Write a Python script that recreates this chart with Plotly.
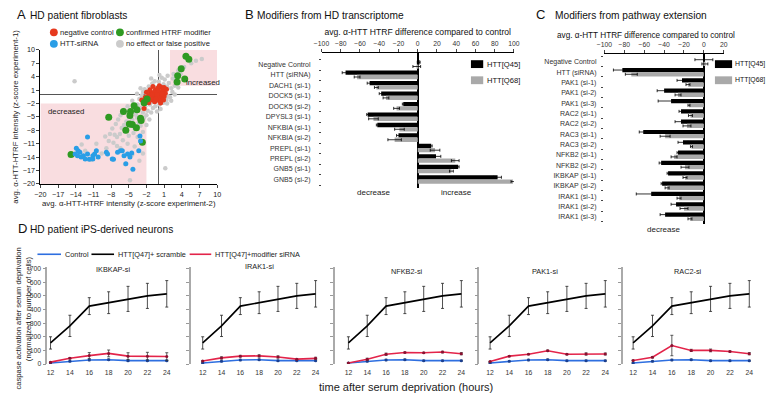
import plotly.graph_objects as go

W, H = 771, 402
FONT = "Liberation Sans, Arial, sans-serif"


def px(x):
    return x / W


def py(y):
    return 1 - y / H


# ---------------- Panel A : screen scatter (z-scores) ----------------
grey_points = [
    (0.2, 0.5), (-0.5, 0.8), (0.8, 1.2), (1.2, 0.3), (-0.8, -0.4), (0.5, -0.6), (1.5, 1.8), (-1.2, 0.2),
    (-0.3, 1.6), (0.9, 2.3), (1.8, 2.6), (2.2, 1.4), (-1.5, -1.0), (-2.0, -0.5), (-1.8, 0.8), (-2.5, -1.5),
    (-2.8, -0.2), (-0.2, -1.5), (0.4, -1.2), (1.0, -0.8), (1.6, -0.3), (2.4, 0.6), (2.8, 2.0), (-1.0, 2.5),
    (0.1, 2.9), (1.1, 3.4), (-0.6, 3.0), (-3.2, -1.0), (-3.5, -2.2), (-3.0, -3.0), (-2.2, -2.6), (-1.4, -2.2),
    (-0.9, -3.0), (-4.0, -2.8), (-4.2, -3.8), (-3.8, -4.5), (-2.6, -4.0), (-1.8, -3.6), (-4.6, -4.2), (-5.0, -5.0),
    (-4.4, -5.6), (-3.6, -5.2), (-3.3, -6.2), (-5.4, -6.0), (-5.8, -6.8), (-4.8, -7.0), (-4.0, -7.6), (-6.2, -7.5),
    (-5.6, -8.3), (-6.5, -8.8), (-7.0, -9.5), (-3.0, -7.0), (-2.4, -5.2), (-2.0, -4.6), (-1.2, -4.0), (-0.5, -2.6),
    (0.2, -2.2), (0.9, -1.8), (1.4, -1.2), (2.0, -0.6), (-2.3, 1.2), (-1.6, 1.8), (-3.6, 0.2), (-4.4, -1.4),
    (-5.2, -2.6), (-5.8, -3.4), (-6.4, -4.6), (-6.8, -5.6), (-7.2, -6.6), (-7.8, -7.6), (-8.2, -8.8), (-5.0, -9.2),
    (-4.2, -8.6), (-3.5, -9.5), (-2.6, -8.4), (-2.0, -6.8), (-1.5, -5.6), (0.6, 3.8), (1.6, 4.2), (2.5, 3.6),
    (3.0, 2.8), (2.6, 4.6), (3.4, 5.4), (4.4, 6.2), (5.6, 7.0), (6.4, 7.6), (7.4, 8.0), (3.8, 4.6),
    (0.0, -0.2), (0.6, 0.4), (-0.4, -0.8), (-1.0, -1.6), (1.3, 1.0), (0.3, 1.3), (-0.7, 0.0), (-1.3, -0.6),
    (-2.0, 0.3), (-2.6, 0.6), (-3.0, 1.4), (-1.2, 3.6), (0.2, 4.4), (1.5, -2.0), (2.2, -1.4), (2.8, 0.0),
    (3.4, 1.6), (0.4, -3.2), (-0.2, -3.8),
    (-14.2, 3.0), (1.2, -16.5), (-4.8, -19.2), (-10.5, -11.0), (-8.4, -10.4), (-12.4, -12.6), (-7.0, -11.5),
    (-6.4, -12.0), (-9.6, -13.2), (-6.0, -10.2), (-8.8, -12.0), (-7.6, -10.8), (-5.2, -11.0), (-4.0, -11.6),
    (-3.2, -14.8), (-2.6, -13.2), (-11.4, -14.6), (-13.0, -11.2), (-9.0, -9.4), (-7.4, -9.0), (-5.6, -15.6),
    (-4.4, -13.4),
]
red_points = [
    (-0.3, 0.2), (0.1, 0.6), (0.5, -0.2), (-0.8, -0.5), (0.8, 0.9), (-1.2, 0.4), (-0.5, 1.0), (0.3, -0.8),
    (1.0, -0.4), (-1.6, -0.2), (-1.0, -1.2), (0.6, 1.6), (-0.1, 1.4), (1.2, 0.3), (-1.8, -1.0), (-2.2, -0.6),
    (-0.6, -1.6), (0.2, -1.4), (0.9, -1.2), (-1.4, 1.1), (-0.9, 1.8), (0.4, 0.3), (-0.2, -0.4), (-2.4, -1.6),
    (-2.0, 0.5), (1.4, 1.2), (0.0, 1.0), (-1.2, -0.6), (0.7, 0.2), (-0.4, -1.0), (-1.6, -1.8), (-2.4, -3.1),
    (-0.7, 0.5), (0.2, 2.0), (1.0, 1.6), (-2.8, -1.2), (-1.0, 0.0), (0.4, -1.9), (-0.2, 0.0),
]
green_points = [
    (4.7, 8.6), (5.2, 7.9), (3.9, 5.8), (3.3, 4.2), (4.5, 3.5), (3.2, 2.8), (-2.4, -1.8), (-1.9, -1.0),
    (-4.1, -2.5), (-3.6, -3.4), (-5.9, -3.8), (-4.7, -3.8), (-4.8, -4.7), (-3.0, -5.3), (-2.9, -5.8),
    (-8.4, -5.1), (-4.9, -6.6), (-4.4, -6.7), (-5.5, -8.0), (-3.7, -7.4), (-2.7, -10.7), (-14.8, -13.4),
]
blue_points = [
    (-13.9, -12.0), (-13.6, -12.6), (-13.3, -12.9), (-14.1, -13.3), (-13.7, -13.7), (-13.1, -14.0),
    (-12.7, -13.7), (-12.4, -14.4), (-11.7, -14.5), (-12.0, -13.3), (-11.1, -13.7), (-10.8, -13.3),
    (-10.5, -12.6), (-11.1, -14.4), (-10.2, -14.0), (-8.8, -12.9), (-8.6, -13.3), (-7.8, -14.4),
    (-7.6, -14.5), (-6.9, -12.9), (-6.4, -12.6), (-6.1, -12.6), (-5.8, -13.7), (-5.2, -13.3),
    (-4.5, -13.1), (-4.8, -14.0), (-5.5, -15.5), (-3.1, -9.3), (-3.0, -10.4), (-3.3, -12.6),
    (-4.3, -16.7), (-12.0, -9.5),
]
a_ticks = [-20, -17, -14, -11, -8, -5, -2, 1, 4, 7, 10]

# ---------------- Panel B : HD transcriptome modifiers ----------------
b_labels = ["Negative Control", "HTT (siRNA)", "DACH1 (si-1)", "DOCK5 (si-1)", "DOCK5 (si-2)",
            "DPYSL3 (si-1)", "NFKBIA (si-1)", "NFKBIA (si-2)", "PREPL (si-1)", "PREPL (si-2)",
            "GNB5 (si-1)", "GNB5 (si-2)"]
b_q45 = [1, -75, -50, -38, -15, -52, -42, -20, 14, 19, 42, 83]
b_q45_err = [1.5, 3.5, 2.5, 2, 1, 1, 1, 2, 1, 5, 1, 4]
b_q68 = [-1, -63, -43, -33, -22, -46, -19, -24, 18, 39, 35, 99]
b_q68_err = [4, 3, 2, 3, 3, 5, 5, 7, 5, 4, 2, 2]

# ---------------- Panel C : pathway extension modifiers ----------------
c_labels = ["Negative Control", "HTT (siRNA)", "PAK1 (si-1)", "PAK1 (si-2)", "PAK1 (si-3)",
            "RAC2 (si-1)", "RAC2 (si-2)", "RAC3 (si-1)", "RAC3 (si-2)", "NFKB2 (si-1)",
            "NFKB2 (si-2)", "IKBKAP (si-1)", "IKBKAP (si-2)", "IRAK1 (si-1)", "IRAK1 (si-2)",
            "IRAK1 (si-3)"]
c_q45 = [0, -82, -22, -40, -33, -23, -23, -61, -21, -26, -43, -36, -42, -53, -28, -39]
c_q45_err = [9, 9, 5, 7, 13, 2, 6, 4, 5, 1, 2, 1, 1, 15, 5, 5]
c_q68 = [1, -73, -16, -26, -15, -13.5, -17, -39, -12.5, -30, -19, -19, -37, -25, -20, -14]
c_q68_err = [3, 6, 2, 3, 1, 2, 4, 5, 1, 3, 4, 2, 2, 2, 4, 2]

# ---------------- Panel D : caspase activation time course ----------------
hours = [12, 14, 16, 18, 20, 22, 24]
control = [8, 20, 30, 32, 25, 25, 25]
control_err = [2, 3, 5, 5, 4, 4, 4]
scramble = [155, 280, 425, 450, 478, 500, 515]
scramble_err = [45, 78, 62, 80, 92, 92, 97]
d_titles = ["IKBKAP-si", "IRAK1-si", "NFKB2-si", "PAK1-si", "RAC2-si"]
mod_ikbkap = [14, 43, 62, 78, 58, 58, 55]
mod_ikbkap_err = [3, 5, 22, 25, 25, 28, 28]
mod_irak1 = [22, 45, 58, 60, 52, 36, 42]
mod_irak1_err = [3, 8, 6, 8, 8, 5, 8]
mod_nfkb2 = [8, 35, 72, 85, 83, 88, 76]
mod_nfkb2_err = [2, 8, 8, 3, 3, 6, 8]
mod_pak1 = [18, 58, 72, 98, 72, 74, 74]
mod_pak1_err = [2, 3, 3, 5, 4, 8, 7]
mod_rac2 = [26, 50, 136, 100, 100, 92, 76]
mod_rac2_err = [3, 5, 75, 8, 10, 4, 8]
d_y_ticks = [0, 100, 200, 300, 400, 500, 600, 700]

RED = "#e6391e"
GREEN = "#2f9a22"
BLUE = "#2a9ee6"
GREY = "#cbcbcb"
D_BLUE = "#2e6fe0"
D_RED = "#e3244a"
BAR_GREY = "#a9a9a9"

fig = go.Figure()

# ---- A traces
for pts, col, size in [(grey_points, GREY, 4.5), (red_points, RED, 5), (green_points, GREEN, 7),
                       (blue_points, BLUE, 5)]:
    xs = [p[0] for p in pts]
    ys = [p[1] for p in pts]
    fig.add_trace(go.Scatter(x=xs, y=ys, mode="markers", xaxis="x", yaxis="y",
                             marker=dict(size=size, color=col, line=dict(width=0)),
                             showlegend=False, hoverinfo="skip"))

# ---- B traces
b_idx = list(range(len(b_labels)))
fig.add_trace(go.Bar(x=b_q45, y=b_idx, orientation="h", xaxis="x2", yaxis="y2", marker_color="black",
                     marker_line_width=0, showlegend=False,
                     error_x=dict(type="data", array=b_q45_err, color="black", thickness=0.8, width=1.5)))
fig.add_trace(go.Bar(x=b_q68, y=b_idx, orientation="h", xaxis="x2", yaxis="y2", marker_color=BAR_GREY,
                     marker_line_width=0, showlegend=False,
                     error_x=dict(type="data", array=b_q68_err, color="black", thickness=0.8, width=1.5)))

# ---- C traces
c_idx = list(range(len(c_labels)))
fig.add_trace(go.Bar(x=c_q45, y=c_idx, orientation="h", xaxis="x3", yaxis="y3", marker_color="black",
                     marker_line_width=0, showlegend=False,
                     error_x=dict(type="data", array=c_q45_err, color="black", thickness=0.8, width=1.5)))
fig.add_trace(go.Bar(x=c_q68, y=c_idx, orientation="h", xaxis="x3", yaxis="y3", marker_color=BAR_GREY,
                     marker_line_width=0, showlegend=False,
                     error_x=dict(type="data", array=c_q68_err, color="black", thickness=0.8, width=1.5)))

# ---- D traces
mods = [(mod_ikbkap, mod_ikbkap_err), (mod_irak1, mod_irak1_err), (mod_nfkb2, mod_nfkb2_err),
        (mod_pak1, mod_pak1_err), (mod_rac2, mod_rac2_err)]
for k, (m, me) in enumerate(mods):
    xa, ya = "x%d" % (4 + k), "y%d" % (4 + k)
    fig.add_trace(go.Scatter(x=hours, y=control, xaxis=xa, yaxis=ya, mode="lines+markers",
                             line=dict(color=D_BLUE, width=1.6), marker=dict(size=3, color="#1a3f90"),
                             error_y=dict(type="data", array=control_err, color="#333", thickness=0.8, width=1.5),
                             showlegend=False))
    fig.add_trace(go.Scatter(x=hours, y=m, xaxis=xa, yaxis=ya, mode="lines+markers",
                             line=dict(color=D_RED, width=1.6), marker=dict(size=3, color="#8a1030"),
                             error_y=dict(type="data", array=me, color="#333", thickness=0.8, width=1.5),
                             showlegend=False))
    fig.add_trace(go.Scatter(x=hours, y=scramble, xaxis=xa, yaxis=ya, mode="lines",
                             line=dict(color="black", width=1.6),
                             error_y=dict(type="data", array=scramble_err, color="#222", thickness=0.8, width=1.5),
                             showlegend=False))

layout = dict(
    width=W, height=H, margin=dict(l=0, r=0, t=0, b=0),
    paper_bgcolor="white", plot_bgcolor="white",
    font=dict(family=FONT, color="#222"),
    barmode="group", bargap=0.18, bargroupgap=0.0,
    showlegend=False,
)

# A axes
layout["xaxis"] = dict(domain=[px(33), px(213)], range=[-20, 10], anchor="y", tickvals=a_ticks,
                       ticks="outside", ticklen=3, tickwidth=1, showline=True, linecolor="black",
                       linewidth=1, showgrid=False, zeroline=True, zerolinecolor="#555", zerolinewidth=1,
                       tickfont=dict(size=7.2, color="#222"),
                       title=dict(text="avg. α-HTT-HTRF intensity (z-score experiment-2)",
                                  font=dict(size=7.8, color="#222"), standoff=1))
layout["yaxis"] = dict(domain=[py(184), py(47)], range=[-20, 10], anchor="x", tickvals=a_ticks,
                       ticks="outside", ticklen=3, tickwidth=1, showline=True, linecolor="black",
                       linewidth=1, showgrid=False, zeroline=True, zerolinecolor="#555", zerolinewidth=1,
                       tickfont=dict(size=7.2, color="#222"),
                       title=dict(text="avg. α-HTT-HTRF intensity (z-score experiment-1)",
                                  font=dict(size=7.8, color="#222"), standoff=3))

# B axes
layout["xaxis2"] = dict(domain=[px(319.3), px(515.3)], range=[-100, 100], anchor="y2", side="top",
                        tickvals=list(range(-100, 101, 20)), ticks="outside", ticklen=3, tickwidth=1,
                        showline=True, linecolor="black", linewidth=1, showgrid=False, zeroline=True,
                        zerolinecolor="black", zerolinewidth=1.6, tickfont=dict(size=6.8, color="#333"),
                        title=dict(text="avg. α-HTT HTRF difference compared to control",
                                   font=dict(size=8.6, color="#111"), standoff=3))
layout["yaxis2"] = dict(domain=[py(188), py(50)], range=[11.8, -1.1], anchor="x2",
                        tickvals=b_idx, ticktext=b_labels, ticks="", showline=False, showgrid=False,
                        zeroline=False, tickfont=dict(size=7, color="#333"), ticklabelstandoff=10,
                        minor=dict(tickvals=[i - 0.45 for i in range(13)], ticks="outside", ticklen=2,
                                   tickcolor="#444", showgrid=False))

# C axes (title placed as annotation, it is offset from the axis centre in the reference)
layout["xaxis3"] = dict(domain=[px(607.5), px(729)], range=[-100, 20], anchor="y3", side="top",
                        tickvals=list(range(-100, 21, 20)), ticks="outside", ticklen=3, tickwidth=1,
                        showline=True, linecolor="black", linewidth=1, showgrid=False, zeroline=True,
                        zerolinecolor="black", zerolinewidth=1.6, tickfont=dict(size=6.8, color="#333"))
layout["yaxis3"] = dict(domain=[py(225), py(50.7)], range=[15.7, -0.8], anchor="x3",
                        tickvals=c_idx, ticktext=c_labels, ticks="", showline=False, showgrid=False,
                        zeroline=False, tickfont=dict(size=7, color="#333"), ticklabelstandoff=7,
                        minor=dict(tickvals=[i + 0.45 for i in range(-1, 16)], ticks="outside", ticklen=2,
                                   tickcolor="#444", showgrid=False))

# D axes
d_dom = [(40, 170), (186, 320), (333, 467), (480, 614), (626, 762)]
d_rng = [(11.665, 24.84), (10.716, 24.70), (10.57, 24.55), (10.875, 24.58), (10.915, 24.71)]
for k in range(5):
    n = 4 + k
    layout["xaxis%d" % n] = dict(domain=[px(d_dom[k][0]), px(d_dom[k][1])], range=list(d_rng[k]),
                                 anchor="y%d" % n, tickvals=hours, ticks="", showline=False,
                                 showgrid=False, zeroline=False, tickfont=dict(size=6.8, color="#333"),
                                 ticklabelstandoff=3)
    layout["yaxis%d" % n] = dict(domain=[py(368.3), py(269)], range=[0, 712], anchor="x%d" % n,
                                 tickvals=d_y_ticks, ticks="outside", ticklen=3, tickwidth=1,
                                 tickcolor="#999", showline=True, linecolor="#aaaaaa", linewidth=1.5,
                                 showgrid=False, zeroline=False, showticklabels=(k == 0),
                                 tickfont=dict(size=6.8, color="#333"))

shapes = []
# pink regions in A
shapes.append(dict(type="rect", xref="x", yref="y", x0=2, x1=10, y0=2, y1=10, fillcolor="#f9dde0",
                   line=dict(width=0), layer="below"))
shapes.append(dict(type="rect", xref="x", yref="y", x0=-20, x1=-2, y0=-20, y1=-2, fillcolor="#f9dde0",
                   line=dict(width=0), layer="below"))

annotations = []


def text(x, y, s, size, color="#111", xanchor="left", yanchor="middle", angle=0):
    annotations.append(dict(x=px(x), y=py(y), xref="paper", yref="paper", text=s, showarrow=False,
                            xanchor=xanchor, yanchor=yanchor, textangle=angle,
                            font=dict(size=size, color=color, family=FONT)))


# panel titles
text(7, 11, "A", 13)
text(20, 11.5, "HD patient fibroblasts", 10.2)
text(239, 11, "B", 13)
text(252, 11.5, "Modifiers from HD transcriptome", 10.2)
text(536, 11, "C", 13)
text(555, 11.5, "Modifiers from pathway extension", 10.2)
text(8, 230, "D", 13)
text(20, 230.5, "HD patient iPS-derived neurons", 10.2)

# C axis title
text(650, 32, "avg. α-HTT HTRF difference compared to control", 8.2, "#111", xanchor="center")

# legend A
leg_a = [(46.7, 29, RED, "negative control"), (114, 29, GREEN, "confirmed HTRF modifier"),
         (46.7, 40.7, BLUE, "HTT-siRNA"), (114, 40.7, GREY, "no effect or false positive")]
for cx, cy, col, lab in leg_a:
    shapes.append(dict(type="circle", xref="paper", yref="paper", x0=px(cx - 4), x1=px(cx + 4),
                       y0=py(cy + 4), y1=py(cy - 4), fillcolor=col, line=dict(width=0)))
    text(cx + 4, cy, lab, 7.6, "#222")

# A region labels
annotations.append(dict(x=7.6, y=2.6, xref="x", yref="y", text="increased", showarrow=False,
                        font=dict(size=7.8, color="#222", family=FONT)))
annotations.append(dict(x=-15.6, y=-3.8, xref="x", yref="y", text="decreased", showarrow=False,
                        font=dict(size=7.8, color="#222", family=FONT)))

# legend B and C
for (sx0, sx1, tx, fs) in [(471.5, 484, 485.5, 7.6), (720, 737.5, 738.5, 6.9)]:
    shapes.append(dict(type="rect", xref="paper", yref="paper", x0=px(sx0), x1=px(sx1), y0=py(65.5),
                       y1=py(57.5), fillcolor="black", line=dict(width=0)))
    shapes.append(dict(type="rect", xref="paper", yref="paper", x0=px(sx0), x1=px(sx1), y0=py(82),
                       y1=py(74), fillcolor=BAR_GREY, line=dict(width=0)))
    text(tx, 61.5, "HTT[Q45]", fs, "#111")
    text(tx, 78, "HTT[Q68]", fs, "#111")

text(372, 192.5, "decrease", 8, "#222", xanchor="center")
text(457, 192.5, "increase", 8, "#222", xanchor="center")
text(668, 231, "decrease", 8, "#222", xanchor="center")

# legend D
leg_d = [(30, 54, D_BLUE, 56, "Control"), (85, 108, "black", 110, "HTT[Q47]+ scramble"),
         (185, 207, D_RED, 208.5, "HTT[Q47]+modifier siRNA")]
for lx0, lx1, col, tx, lab in leg_d:
    shapes.append(dict(type="line", xref="paper", yref="paper", x0=px(lx0), x1=px(lx1), y0=py(256),
                       y1=py(256), line=dict(color=col, width=1.6)))
    text(tx, 256, lab, 7.3, "#222")

# D subplot titles
for k, (tx, ty) in enumerate([(106.7, 272), (256, 269), (406.7, 274), (546.7, 274), (693, 274)]):
    text(tx, ty, d_titles[k], 7.3, "#222", xanchor="center")

# D shared axis titles
text(405, 391.5, "time after serum deprivation (hours)", 11, "#222", xanchor="center")
text(11, 322, "caspase activation after serum deprivation", 7.6, "#222", xanchor="center", angle=-90)
text(20.5, 312, "(normalized to number of cells)", 7.6, "#222", xanchor="center", angle=-90)

layout["shapes"] = shapes
layout["annotations"] = annotations
fig.update_layout(**layout)
fig.write_html("out.html", config={"displayModeBar": False},
               post_script="document.body.style.margin='0px';document.body.style.overflow='hidden';")
